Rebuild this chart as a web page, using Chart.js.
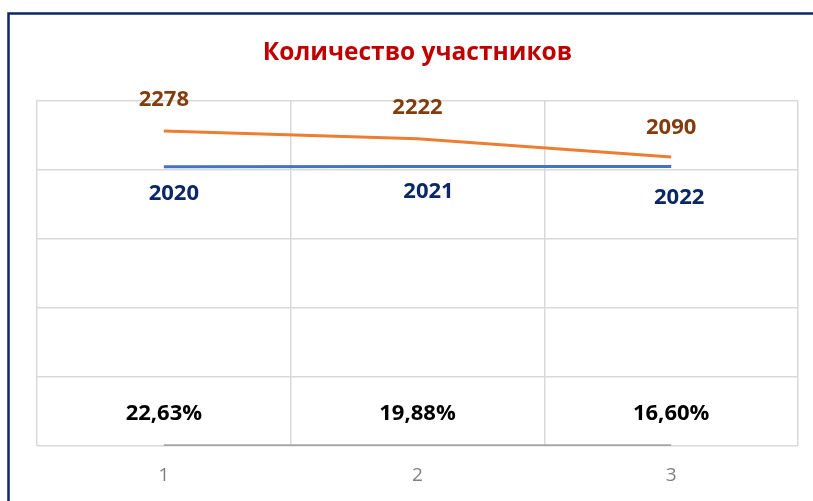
<!DOCTYPE html>
<html>
<head>
<meta charset="utf-8">
<script src="https://cdn.jsdelivr.net/npm/chart.js@4.4.1/dist/chart.umd.min.js"></script>
<style>
  html, body { margin: 0; padding: 0; background: #fff; }
  #wrap { width: 813px; height: 501px; position: relative; }
</style>
</head>
<body>
<div id="wrap"><canvas id="chart" width="813" height="501"></canvas></div>
<script>
// Données du graphique
const categories = ['1', '2', '3'];
const participants = [2278, 2222, 2090];
const years = [2020, 2021, 2022];
const shares = [22.63, 19.88, 16.60];

// Décalages des étiquettes (déplacées à la main dans l'original)
const labelShift = [
    { dx: [0, 0, 0], dy: [-31, -31, -29] },
    { dx: [10, 11, 8], dy: [27, 25, 31] },
    { dx: [0, 0, 0], dy: [-32, -32, -32] }
];

function formatShare(v) {
    return v.toFixed(2).replace('.', ',') + '%';
}

// Cadre bleu foncé autour du graphique
const framePlugin = {
    id: 'frame',
    beforeDraw(chart) {
        const ctx = chart.ctx;
        ctx.save();
        ctx.fillStyle = '#fff';
        ctx.fillRect(0, 0, chart.width, chart.height);
        ctx.strokeStyle = '#0b2766';
        ctx.lineWidth = 2.5;
        ctx.strokeRect(8.5, 13.5, 900, 600);
        ctx.restore();
    }
};

// Étiquettes de données
const labelsPlugin = {
    id: 'valueLabels',
    afterDatasetsDraw(chart) {
        const ctx = chart.ctx;
        ctx.save();
        ctx.font = 'bold 22px "Open Sans"';
        ctx.textAlign = 'center';
        ctx.textBaseline = 'middle';
        chart.data.datasets.forEach((ds, i) => {
            const meta = chart.getDatasetMeta(i);
            ctx.fillStyle = ds.labelColor;
            meta.data.forEach((pt, j) => {
                const txt = ds.labelText(j);
                ctx.fillText(txt, pt.x + labelShift[i].dx[j], pt.y + labelShift[i].dy[j]);
            });
        });
        ctx.restore();
    }
};

const ctx = document.getElementById('chart');

new Chart(ctx, {
    type: 'line',
    data: {
        labels: categories,
        datasets: [
            {
                data: participants,
                borderColor: '#ed7d31',
                borderWidth: 3,
                pointRadius: 0,
                labelColor: '#843c0c',
                labelText: j => String(participants[j])
            },
            {
                data: years,
                borderColor: '#4472c4',
                borderWidth: 3,
                pointRadius: 0,
                labelColor: '#0b2766',
                labelText: j => String(years[j])
            },
            {
                data: shares.map(v => v / 100),
                borderColor: '#a5a5a5',
                borderWidth: 3.5,
                pointRadius: 0,
                labelColor: '#000',
                labelText: j => formatShare(shares[j])
            }
        ]
    },
    options: {
        responsive: false,
        animation: false,
        layout: { padding: { left: 37, right: 15, top: 0, bottom: 12 } },
        plugins: {
            legend: { display: false },
            tooltip: { enabled: false },
            title: {
                display: true,
                text: 'Количество участников',
                color: '#c00000',
                font: { family: 'Open Sans', size: 24.5, weight: 'bold', lineHeight: 1.2 },
                padding: { top: 38, bottom: 33 }
            }
        },
        scales: {
            x: {
                offset: true,
                grid: { color: '#d9d9d9', lineWidth: 1.5, drawTicks: false, offset: true },
                border: { display: false },
                ticks: { color: '#7f7f7f', padding: 18, font: { family: 'Open Sans', size: 19 } },
                afterFit(scale) { scale.height = 43; }
            },
            y: {
                min: 0,
                max: 2500,
                ticks: { display: false, stepSize: 500 },
                grid: { color: '#d9d9d9', lineWidth: 1.5, drawTicks: false },
                border: { display: false },
                afterFit(scale) { scale.width = 0; }
            }
        }
    },
    plugins: [framePlugin, labelsPlugin]
});
</script>
</body>
</html>
